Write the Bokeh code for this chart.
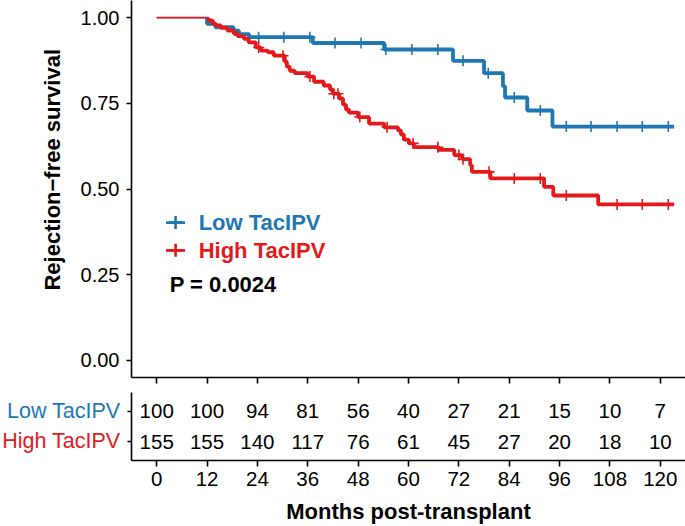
import numpy as np
from bokeh.plotting import figure
from bokeh.layouts import column, row
from bokeh.models import Range1d, FixedTicker, CustomJSTickFormatter, NumeralTickFormatter
from bokeh.core.properties import value
from bokeh.embed import file_html
from bokeh.resources import INLINE

# ---------------- data ----------------
groups = ["Low TacIPV", "High TacIPV"]
colors = ["#1F78B4", "#E31A1C"]

low_event_times = [12.0, 14.0, 18.3, 19.6, 22.0, 37.2, 54.2, 70.6, 78.0, 82.5, 83.0, 88.3, 94.3]
low_event_surv = [0.982, 0.972, 0.962, 0.952, 0.943, 0.926, 0.907, 0.874, 0.838, 0.800, 0.767, 0.729, 0.682]
low_censor_times = [24.3, 30.3, 36.5, 42.5, 48.7, 54.6, 60.8, 67.0, 73.0, 79.0, 85.2, 91.4,
                    97.6, 103.5, 109.7, 115.7, 121.9]

high_event_times = [12.4, 13.4, 14.1, 15.3, 16.9, 18.4, 19.3, 20.8, 21.9, 23.6, 24.8, 26.5, 27.9,
                    30.5, 31.0, 31.7, 32.9, 36.0, 37.5, 39.8, 41.3, 42.0, 43.5, 44.4, 45.1, 45.8,
                    48.0, 50.6, 54.2, 57.5, 58.2, 58.9, 60.1, 61.3, 67.2, 70.9, 72.8, 74.7, 75.1,
                    79.5, 92.3, 94.5, 105.2]
high_event_surv = [0.991, 0.982, 0.977, 0.970, 0.962, 0.953, 0.946, 0.938, 0.928, 0.913, 0.904, 0.899,
                   0.889, 0.872, 0.857, 0.845, 0.838, 0.828, 0.813, 0.802, 0.790, 0.778, 0.764, 0.746,
                   0.732, 0.723, 0.710, 0.691, 0.680, 0.671, 0.659, 0.644, 0.633, 0.622, 0.614, 0.599,
                   0.587, 0.569, 0.550, 0.531, 0.506, 0.481, 0.455]
high_censor_times = [24.3, 30.1, 36.5, 42.2, 43.2, 48.4, 54.9, 61.1, 67.0, 72.0, 73.0, 79.2, 85.2,
                     91.4, 97.6, 109.7, 115.7, 121.9]
end_time = 123.3

risk_times = [0, 12, 24, 36, 48, 60, 72, 84, 96, 108, 120]
low_at_risk = [100, 100, 94, 81, 56, 40, 27, 21, 15, 10, 7]
high_at_risk = [155, 155, 140, 117, 76, 61, 45, 27, 20, 18, 10]
y_ticks = [0.0, 0.25, 0.50, 0.75, 1.00]
p_text = "P = 0.0024"
y_title = "Rejection\u2212free survival"
x_title = "Months post-transplant"

FONT = "Liberation Sans"

curves = [
    (low_event_times, low_event_surv, low_censor_times, colors[0], 1.2),
    (high_event_times, high_event_surv, high_censor_times, colors[1], 1.8),
]


def step_xy(times, surv, t_end):
    xs = [times[0]]
    ys = [1.0]
    prev = 1.0
    for t, s in zip(times, surv):
        xs += [t, t]
        ys += [prev, s]
        prev = s
    xs.append(t_end)
    ys.append(prev)
    return xs, ys


def surv_at(times, surv, ts):
    times = np.asarray(times)
    surv = np.asarray(surv)
    idx = np.searchsorted(times, ts, side="right") - 1
    return np.where(idx >= 0, surv[np.clip(idx, 0, None)], 1.0)


def style_axis(ax, tick_out=5):
    ax.axis_line_color = "black"
    ax.axis_line_width = 1.6
    ax.major_tick_line_color = "black"
    ax.major_tick_line_width = 1.6
    ax.major_tick_in = 0
    ax.major_tick_out = tick_out
    ax.minor_tick_line_color = None
    ax.major_label_text_color = "black"
    ax.major_label_text_font = FONT
    ax.axis_label_text_font = FONT
    ax.axis_label_text_color = "black"


def bare(fig):
    fig.outline_line_color = None
    fig.xgrid.visible = False
    fig.ygrid.visible = False


x_range = Range1d(-6, 126)
TOP_H = 392
TITLE_W = 66

# ---------------- y title panel ----------------
yt = figure(width=TITLE_W, height=TOP_H, x_range=Range1d(0, TITLE_W), y_range=Range1d(0, TOP_H),
            output_backend="svg", toolbar_location=None,
            min_border_left=0, min_border_right=0, min_border_top=0, min_border_bottom=0)
bare(yt)
yt.axis.visible = False
yt.text([52], [TOP_H - 176], text=[y_title], angle=np.pi / 2, text_color="black",
        text_font=value(FONT), text_font_size="22px", text_font_style="bold",
        text_align="center", text_baseline="middle")

# ---------------- survival plot ----------------
p = figure(width=685 - TITLE_W, height=TOP_H, x_range=x_range, y_range=Range1d(-0.05, 1.05),
           output_backend="svg", toolbar_location=None,
           min_border_left=131 - TITLE_W, min_border_right=0, min_border_top=0, min_border_bottom=15)
bare(p)

for times, surv, cens, col, thin_w in curves:
    p.line([0, times[0]], [1.0, 1.0], line_color=col, line_width=thin_w)
for times, surv, cens, col, thin_w in curves:
    xs, ys = step_xy(times, surv, end_time)
    p.line(xs, ys, line_color=col, line_width=3.8)
    p.scatter(cens, surv_at(times, surv, cens), marker="cross", size=11,
              line_color=col, line_width=1.6)

# legend
leg_y = [0.402, 0.321]
for g, col, yy in zip(groups, colors, leg_y):
    p.scatter([4.5], [yy], marker="dash", size=19, line_color=col, line_width=2.6)
    p.scatter([4.5], [yy], marker="cross", size=13, line_color=col, line_width=2.6)
    p.text([10.0], [yy], text=[g], text_color=col, text_font=value(FONT),
           text_font_size="22px", text_font_style="bold", text_baseline="middle", text_align="left")
p.text([3.1], [0.222], text=[p_text], text_color="black", text_font=value(FONT),
       text_font_size="22px", text_font_style="bold", text_baseline="middle", text_align="left")

p.yaxis.ticker = FixedTicker(ticks=y_ticks)
p.yaxis.formatter = NumeralTickFormatter(format="0.00")
p.xaxis.ticker = FixedTicker(ticks=risk_times)
p.xaxis.formatter = CustomJSTickFormatter(code="return ''")
style_axis(p.xaxis, 6)
style_axis(p.yaxis, 5)
p.xaxis.major_label_text_font_size = "1px"
p.xaxis.major_label_standoff = 0
p.yaxis.major_label_text_font_size = "20px"
p.yaxis.major_label_standoff = 7

# ---------------- risk table ----------------
table_y = Range1d(0.4, 2.6)
LBL_W = 124
BOT_H = 526 - TOP_H

lab = figure(width=LBL_W, height=BOT_H, x_range=Range1d(0, LBL_W), y_range=table_y,
             output_backend="svg", toolbar_location=None,
             min_border_left=0, min_border_right=0, min_border_top=0, min_border_bottom=61)
bare(lab)
lab.axis.visible = False
for g, col, yy in zip(groups, colors, [2, 1.03]):
    lab.text([LBL_W - 4], [yy], text=[g], text_color=col, text_font=value(FONT),
             text_font_size="21.5px", text_align="right", text_baseline="middle")

t = figure(width=685 - LBL_W, height=BOT_H, x_range=x_range, y_range=table_y,
           output_backend="svg", toolbar_location=None,
           min_border_left=131 - LBL_W, min_border_right=0, min_border_top=0, min_border_bottom=61)
bare(t)

rows = [(low_at_risk, 2), (high_at_risk, 1)]
for counts, yy in rows:
    t.text(risk_times, [yy] * len(risk_times), text=[str(c) for c in counts],
           text_color="black", text_font=value(FONT), text_font_size="20.5px",
           text_align="center", text_baseline="middle")

t.yaxis.ticker = FixedTicker(ticks=[1, 2])
t.yaxis.formatter = CustomJSTickFormatter(code="return ''")
t.xaxis.ticker = FixedTicker(ticks=risk_times)
t.xaxis.axis_label = x_title
style_axis(t.xaxis, 6)
style_axis(t.yaxis, 4)
t.yaxis.major_label_text_font_size = "1px"
t.yaxis.major_label_standoff = 0
t.xaxis.major_label_text_font_size = "20.5px"
t.xaxis.major_label_standoff = 5
t.xaxis.axis_label_text_font_size = "22px"
t.xaxis.axis_label_text_font_style = "bold"
t.xaxis.axis_label_standoff = 10

layout = column(row(yt, p, spacing=0), row(lab, t, spacing=0), spacing=0)
open("out.html", "w").write(file_html(layout, INLINE))
